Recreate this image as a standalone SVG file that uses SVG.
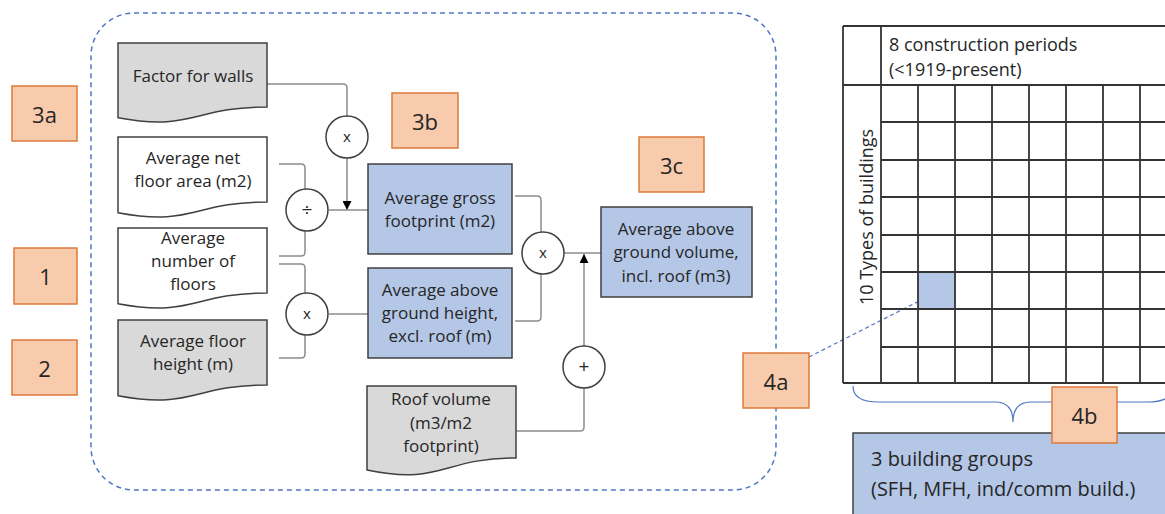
<svg xmlns="http://www.w3.org/2000/svg" width="1165" height="514" viewBox="0 0 1165 514">
  <style>
    text { font-family: "Open Sans", "Liberation Sans", sans-serif; fill: #262626; }
    .t { font-size: 17px; text-anchor: middle; }
    .lbl { font-size: 22px; text-anchor: middle; dominant-baseline: central; }
    .op { font-size: 15px; text-anchor: middle; dominant-baseline: central; }
    .doc-w { fill: #ffffff; stroke: #404040; stroke-width: 1.5; }
    .doc-g { fill: #d9d9d9; stroke: #404040; stroke-width: 1.5; }
    .calc { fill: #b4c7e7; stroke: #404040; stroke-width: 1.5; }
    .tag { fill: #f8cbad; stroke: #dd7a3c; stroke-width: 1.5; }
    .opc { fill: #ffffff; stroke: #404040; stroke-width: 1.5; }
    .wire { fill: none; stroke: #8c8c8c; stroke-width: 1.5; }
    .frame { fill: none; stroke: #4f76c0; stroke-width: 1.5; stroke-dasharray: 5 4; }
    .grid { fill: none; stroke: #333333; stroke-width: 1.8; }
  </style>
  <defs>
    <marker id="arrow" viewBox="0 0 10 10" refX="10" refY="5" markerWidth="9" markerHeight="9" markerUnits="userSpaceOnUse" orient="auto">
      <path d="M0,0 L10,5 L0,10 Z" fill="#000000"/>
    </marker>
  </defs>

  <!-- dashed frame around the calculation -->
  <rect class="frame" x="91" y="13" width="685" height="477" rx="43" ry="43"/>

  <!-- connectors -->
  <g id="connectors">
    <path class="wire" d="M267,84 H343 Q347,84 347,88 V116"/>
    <path class="wire" d="M347,158 V210" marker-end="url(#arrow)"/>
    <path class="wire" d="M329,210 H368"/>
    <path class="wire" d="M279,164 H301 Q305,164 305,168 V189"/>
    <path class="wire" d="M279,256 H301 Q305,256 305,252 V231"/>
    <path class="wire" d="M279,264 H301 Q305,264 305,268 V293"/>
    <path class="wire" d="M279,358 H301 Q305,358 305,354 V335"/>
    <path class="wire" d="M329,314 H368"/>
    <path class="wire" d="M515,196 H537 Q541,196 541,200 V232"/>
    <path class="wire" d="M515,321 H537 Q541,321 541,317 V274"/>
    <path class="wire" d="M564,253 H601"/>
    <path class="wire" d="M584,346 V254" marker-end="url(#arrow)"/>
    <path class="wire" d="M516,431 H580 Q584,431 584,427 V388"/>
    <path fill="none" stroke="#4f76c0" stroke-width="1.2" stroke-dasharray="4 3" d="M809,357 L935,293"/>
  </g>

  <!-- input documents -->
  <g id="factor-walls">
    <path class="doc-g" d="M118,43 H267 V107 C192.5,107 192.5,131.6 118,117.7 Z"/>
    <text class="t" x="193" y="82">Factor for walls</text>
  </g>
  <g id="net-floor-area">
    <path class="doc-w" d="M118,137 H267 V202 C192.5,202 192.5,226.7 118,212.7 Z"/>
    <text class="t" x="193" y="164">Average net</text>
    <text class="t" x="193" y="187">floor area (m2)</text>
  </g>
  <g id="number-floors">
    <path class="doc-w" d="M118,228 H267 V293 C192.5,293 192.5,317.7 118,303.7 Z"/>
    <text class="t" x="193" y="244">Average</text>
    <text class="t" x="193" y="267">number of</text>
    <text class="t" x="193" y="290">floors</text>
  </g>
  <g id="floor-height">
    <path class="doc-g" d="M118,320 H267 V385 C192.5,385 192.5,409.7 118,395.7 Z"/>
    <text class="t" x="193" y="347">Average floor</text>
    <text class="t" x="193" y="370">height (m)</text>
  </g>
  <g id="roof-volume">
    <path class="doc-g" d="M367,386 H516 V458 C441.5,458 441.5,485.6 367,470 Z"/>
    <text class="t" x="441" y="405">Roof volume</text>
    <text class="t" x="441" y="429">(m3/m2</text>
    <text class="t" x="441" y="452">footprint)</text>
  </g>

  <!-- operators -->
  <g id="op-mult-walls">
    <circle class="opc" cx="347" cy="137" r="21"/>
    <text class="op" x="347" y="136">x</text>
  </g>
  <g id="op-divide">
    <circle class="opc" cx="307" cy="210" r="21"/>
    <text class="op" x="307" y="209" style="font-size:19px">÷</text>
  </g>
  <g id="op-mult-height">
    <circle class="opc" cx="307" cy="314" r="21"/>
    <text class="op" x="307" y="313">x</text>
  </g>
  <g id="op-mult-volume">
    <circle class="opc" cx="543" cy="253" r="21"/>
    <text class="op" x="543" y="252">x</text>
  </g>
  <g id="op-plus">
    <circle class="opc" cx="584" cy="367" r="21"/>
    <text class="op" x="584" y="366" style="font-size:19px">+</text>
  </g>

  <!-- calculated values -->
  <g id="gross-footprint">
    <rect class="calc" x="368" y="164" width="144" height="90"/>
    <text class="t" x="440" y="204">Average gross</text>
    <text class="t" x="440" y="227">footprint (m2)</text>
  </g>
  <g id="ground-height">
    <rect class="calc" x="368" y="268" width="144" height="90"/>
    <text class="t" x="440" y="296">Average above</text>
    <text class="t" x="440" y="319">ground height,</text>
    <text class="t" x="440" y="342">excl. roof (m)</text>
  </g>
  <g id="ground-volume">
    <rect class="calc" x="601" y="207" width="151" height="90"/>
    <text class="t" x="676" y="235">Average above</text>
    <text class="t" x="676" y="258">ground volume,</text>
    <text class="t" x="676" y="282">incl. roof (m3)</text>
  </g>

  <!-- building typology grid -->
  <g id="typology-grid">
    <rect x="918" y="272" width="37" height="37" fill="#b4c7e7"/>
    <path class="grid" d="M843,26 H1180 M843,85 H1180 M843,383 H1180 M843,26 V383 M881,26 V383"/>
    <path class="grid" d="M881,122 H1180 M881,160 H1180 M881,197 H1180 M881,235 H1180 M881,272 H1180 M881,309 H1180 M881,347 H1180"/>
    <path class="grid" d="M918,85 V383 M955,85 V383 M992,85 V383 M1029,85 V383 M1066,85 V383 M1103,85 V383 M1140,85 V383"/>
    <text x="889" y="51" style="font-size:18px">8 construction periods</text>
    <text x="889" y="76" style="font-size:18px">(&lt;1919-present)</text>
    <text transform="translate(873,217) rotate(-90)" style="font-size:18px" text-anchor="middle">10 Types of buildings</text>
  </g>
  <path id="group-brace" fill="none" stroke="#4f76c0" stroke-width="1.2" d="M853,386 Q853,402 878,402 H995 Q1013,402 1013,422 Q1013,402 1031,402 H1148 Q1173,402 1173,386"/>
  <g id="building-groups">
    <rect class="calc" x="853" y="433" width="330" height="100"/>
    <text x="871" y="466" style="font-size:20px">3 building groups</text>
    <text x="871" y="496" style="font-size:20px">(SFH, MFH, ind/comm build.)</text>
  </g>

  <!-- step labels -->
  <g id="tag-3a"><rect class="tag" x="12" y="86" width="65" height="55"/><text class="lbl" x="44.5" y="113.5">3a</text></g>
  <g id="tag-1"><rect class="tag" x="14" y="248" width="63" height="56"/><text class="lbl" x="45.5" y="276">1</text></g>
  <g id="tag-2"><rect class="tag" x="12" y="340" width="65" height="55"/><text class="lbl" x="44.5" y="367.5">2</text></g>
  <g id="tag-3b"><rect class="tag" x="392" y="93" width="66" height="55"/><text class="lbl" x="425" y="120.5">3b</text></g>
  <g id="tag-3c"><rect class="tag" x="639" y="137" width="65" height="55"/><text class="lbl" x="671.5" y="164.5">3c</text></g>
  <g id="tag-4a"><rect class="tag" x="743" y="353" width="66" height="55"/><text class="lbl" x="776" y="380.5">4a</text></g>
  <g id="tag-4b"><rect class="tag" x="1052" y="387" width="65" height="56"/><text class="lbl" x="1084.5" y="415">4b</text></g>
</svg>
